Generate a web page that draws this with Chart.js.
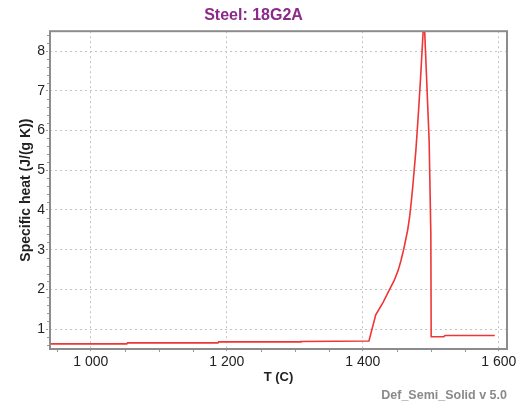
<!DOCTYPE html>
<html lang="en">
<head>
    <meta charset="UTF-8">
    <title>Steel: 18G2A</title>
    <style>
        html, body { margin: 0; padding: 0; background: #fff; }
        #wrap { width: 528px; height: 408px; }
    </style>
</head>
<body>
    <div id="wrap"><canvas id="heatChart" width="528" height="408"></canvas></div>

    <script src="https://cdn.jsdelivr.net/npm/chart.js@4.4.1/dist/chart.umd.min.js"></script>
    <script>
        // values
        var tempC = [940, 1053, 1054, 1187, 1188, 1308, 1309, 1409, 1419, 1430, 1439, 1446, 1452, 1456,
                     1460, 1463, 1466, 1469, 1471.5, 1473.5, 1475.5, 1478, 1480, 1482.5, 1485, 1490,
                     1497.5, 1500, 1500.5, 1519, 1521, 1594];
        var specHeat = [0.63, 0.63, 0.655, 0.655, 0.68, 0.68, 0.69, 0.70, 1.36, 1.68, 1.99, 2.22, 2.48, 2.72,
                        3.0, 3.25, 3.5, 3.85, 4.25, 4.6, 5.0, 5.5, 6.0, 6.65, 7.35, 8.9,
                        5.75, 3.4, 0.81, 0.81, 0.84, 0.84];
        var xTicks = [1000, 1200, 1400, 1600];
        var yTicks = [1, 2, 3, 4, 5, 6, 7, 8];

        function spaced(v) {
            return String(v).replace(/\B(?=(\d{3})+(?!\d))/g, ' ');
        }

        var points = [];
        for (var i = 0; i < tempC.length; i++) {
            points.push({x: tempC[i], y: specHeat[i]});
        }

        // frame on all four sides + small minor ticks
        var framePlugin = {
            id: 'frame',
            afterDraw: function (chart) {
                var ctx = chart.ctx, a = chart.chartArea;
                var xs = chart.scales.x, ys = chart.scales.y;
                ctx.save();
                ctx.strokeStyle = '#999';
                ctx.lineWidth = 1;
                var v, p;
                ctx.beginPath();
                for (v = 950; v < xs.max; v += 50) {
                    if (v % 200 === 0) continue;
                    p = Math.round(xs.getPixelForValue(v)) + 0.5;
                    ctx.moveTo(p, a.bottom);
                    ctx.lineTo(p, a.bottom + 3);
                }
                for (v = 0.6; v < ys.max; v += 0.2) {
                    if (Math.abs(v - Math.round(v)) < 0.01) continue;
                    p = Math.round(ys.getPixelForValue(v)) + 0.5;
                    ctx.moveTo(a.left, p);
                    ctx.lineTo(a.left - 3, p);
                }
                ctx.stroke();
                ctx.strokeStyle = '#8c8c8c';
                ctx.lineWidth = 2;
                ctx.strokeRect(a.left, a.top, a.right - a.left, a.bottom - a.top);
                ctx.restore();
            }
        };

        new Chart(document.querySelector('#heatChart'), {
            type: 'line',
            data: {
                datasets: [{
                    data: points,
                    borderColor: '#ef3535',
                    borderWidth: 1.6,
                    pointRadius: 0,
                    tension: 0,
                    fill: false
                }]
            },
            options: {
                responsive: false,
                animation: false,
                layout: {padding: {left: 0, right: 21, top: 0, bottom: 0}},
                plugins: {
                    legend: {display: false},
                    tooltip: {enabled: false},
                    title: {
                        display: true,
                        text: 'Steel: 18G2A',
                        color: '#8b2a8b',
                        font: {family: 'Liberation Sans', size: 16, weight: 'bold'},
                        padding: {top: 6, bottom: 6}
                    },
                    subtitle: {
                        display: true,
                        text: 'Def_Semi_Solid v 5.0',
                        position: 'bottom',
                        align: 'end',
                        color: '#8a8a8a',
                        font: {family: 'Liberation Sans', size: 12.5, weight: 'bold'},
                        padding: {top: 3, bottom: 5}
                    }
                },
                scales: {
                    x: {
                        type: 'linear',
                        min: 940,
                        max: 1612,
                        afterBuildTicks: function (s) {
                            s.ticks = xTicks.map(function (v) { return {value: v}; });
                        },
                        afterFit: function (s) { s.height = 36; },
                        ticks: {
                            color: '#222',
                            font: {family: 'Liberation Sans', size: 14},
                            padding: 1,
                            maxRotation: 0,
                            callback: function (v) { return spaced(v); }
                        },
                        grid: {
                            color: '#c4c4c4',
                            tickLength: 4,
                            tickColor: '#999',
                            tickBorderDash: [2, 2]
                        },
                        border: {display: false, dash: [2, 3]},
                        title: {
                            display: true,
                            text: 'T (C)',
                            color: '#222',
                            font: {family: 'Liberation Sans', size: 13, weight: 'bold'},
                            padding: {top: 1, bottom: 0}
                        }
                    },
                    y: {
                        min: 0.5,
                        max: 8.5,
                        afterBuildTicks: function (s) {
                            s.ticks = yTicks.map(function (v) { return {value: v}; });
                        },
                        afterFit: function (s) { s.width = 50; },
                        ticks: {
                            color: '#222',
                            font: {family: 'Liberation Sans', size: 14},
                            padding: 1
                        },
                        grid: {
                            color: '#c4c4c4',
                            tickLength: 4,
                            tickColor: '#999',
                            tickBorderDash: [2, 2]
                        },
                        border: {display: false, dash: [2, 3]},
                        title: {
                            display: true,
                            text: 'Specific heat (J/(g K))',
                            color: '#222',
                            font: {family: 'Liberation Sans', size: 14, weight: 'bold'},
                            padding: {top: 18, bottom: 0}
                        }
                    }
                }
            },
            plugins: [framePlugin]
        });
    </script>
</body>
</html>
